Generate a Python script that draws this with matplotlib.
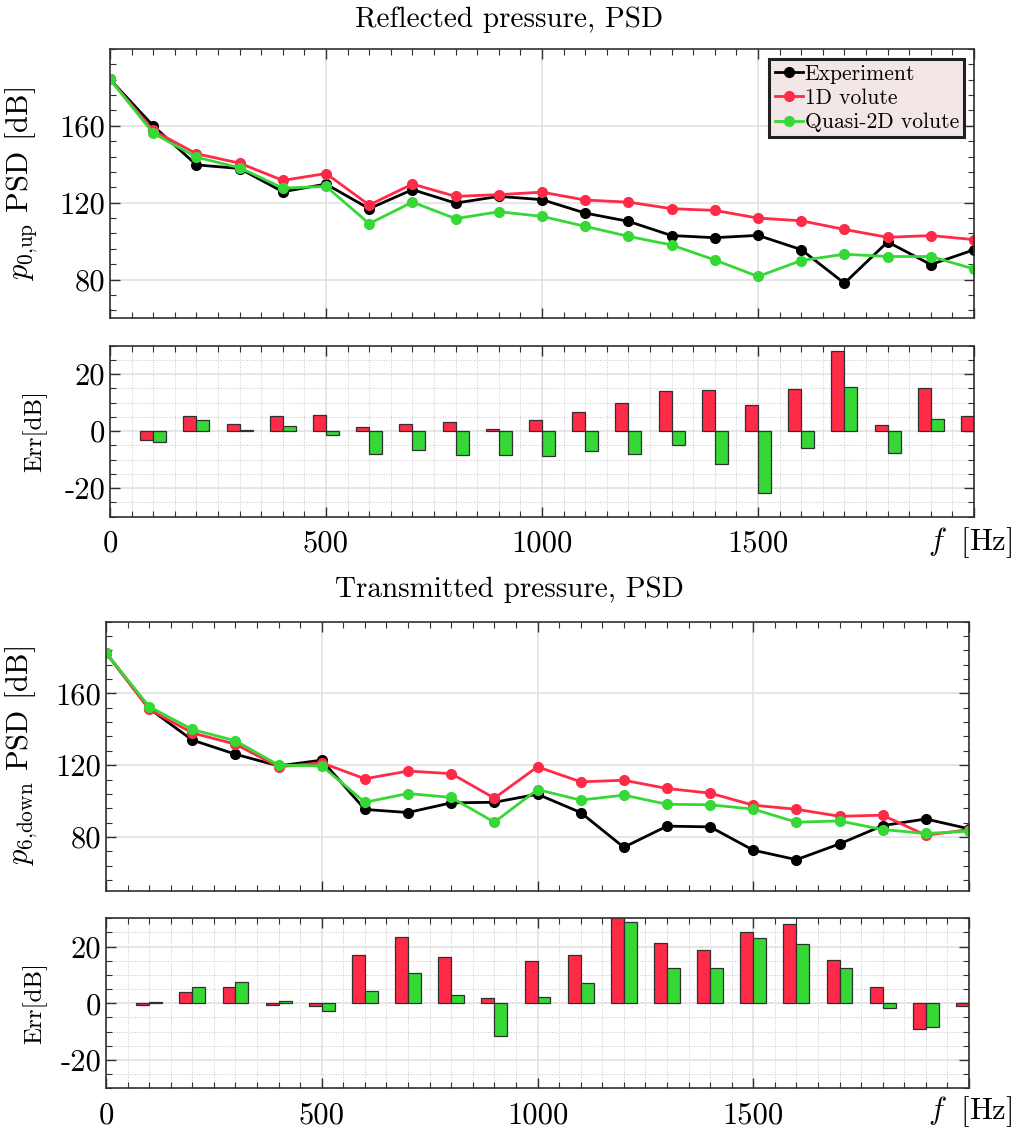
import matplotlib
matplotlib.use('Agg')
import matplotlib.pyplot as plt
import numpy as np
from matplotlib.ticker import MultipleLocator

plt.rcParams['font.family'] = 'cmr10'
plt.rcParams['mathtext.fontset'] = 'cm'
plt.rcParams['axes.unicode_minus'] = False
plt.rcParams['axes.formatter.use_mathtext'] = True

# frequencies of the spectral lines [Hz]
freq = [0, 100, 200, 300, 400, 500, 600, 700, 800, 900, 1000,
        1100, 1200, 1300, 1400, 1500, 1600, 1700, 1800, 1900, 2000]
freq_err = freq[1:]

# reflected pressure PSD [dB]
up_exp = [184.2, 160.0, 139.7, 137.8, 125.7, 129.7, 116.9, 126.8, 119.8, 123.3, 121.6,
          114.6, 110.3, 102.9, 101.8, 103.0, 95.6, 78.1, 99.6, 87.8, 95.5]
up_1d = [184.2, 157.6, 145.5, 140.6, 131.6, 135.2, 118.8, 129.7, 123.3, 124.2, 125.5,
         121.4, 120.3, 116.9, 116.0, 112.0, 110.6, 106.1, 102.0, 102.9, 100.8]
up_q2d = [184.2, 156.2, 143.7, 138.2, 127.6, 128.5, 109.1, 120.3, 111.7, 115.3, 112.9,
          107.7, 102.5, 98.0, 90.2, 81.6, 89.9, 93.2, 92.0, 92.0, 85.5]

# reflected pressure error vs experiment [dB]
up_err_1d = [-3.0, 5.1, 2.6, 5.4, 5.7, 1.5, 2.6, 3.3, 0.7, 3.7,
             6.5, 9.9, 14.0, 14.3, 9.0, 14.9, 28.1, 2.1, 15.0, 5.2]
up_err_q2d = [-3.7, 3.8, 0.5, 1.7, -1.3, -8.1, -6.5, -8.5, -8.4, -8.8,
              -7.0, -8.0, -5.0, -11.7, -21.8, -5.8, 15.3, -7.8, 4.1, -10.0]

# transmitted pressure PSD [dB]
down_exp = [182.7, 151.6, 134.0, 126.1, 119.6, 122.8, 95.3, 93.6, 99.0, 99.3, 103.8,
            93.6, 74.2, 86.0, 85.6, 72.6, 67.3, 76.1, 86.3, 90.0, 84.5]
down_1d = [182.7, 151.1, 138.0, 131.7, 119.1, 121.3, 112.4, 116.7, 115.3, 101.6, 119.1,
           110.7, 111.6, 107.0, 104.4, 97.7, 95.4, 91.5, 92.1, 80.9, 84.1]
down_q2d = [182.7, 152.6, 139.9, 133.6, 120.0, 119.6, 99.3, 104.2, 102.0, 88.2, 106.4,
            100.5, 103.3, 98.2, 97.9, 95.5, 88.2, 88.9, 84.1, 81.9, 83.2]

# transmitted pressure error vs experiment [dB]
down_err_1d = [-0.7, 3.9, 5.6, -0.7, -0.9, 16.9, 23.3, 16.2, 2.0, 14.8,
               17.2, 37.4, 21.4, 18.8, 25.1, 28.1, 15.2, 5.8, -9.2, -0.9]
down_err_q2d = [0.4, 5.6, 7.5, 0.7, -2.7, 4.2, 10.6, 2.8, -11.4, 2.2,
                7.1, 28.8, 12.4, 12.4, 22.9, 20.8, 12.6, -1.8, -8.2, -1.3]

labels = ['Experiment', '1D volute', 'Quasi-2D volute']
RED = '#ff2a48'
GREEN = '#35d835'
GRID = '#e2e2e2'
SPINE = '#303030'

W, H = 1016, 1135
fig = plt.figure(figsize=(W / 100, H / 100), dpi=100, facecolor='white')


def box(left, top, right, bottom):
    return [left / W, 1 - bottom / H, (right - left) / W, (bottom - top) / H]


def style_axes(ax):
    for s in ax.spines.values():
        s.set_color(SPINE)
        s.set_linewidth(1.2)
    ax.tick_params(which='both', direction='in', top=True, right=True, color=SPINE)
    ax.tick_params(which='major', length=7, width=1.0, labelsize=22)
    ax.tick_params(which='minor', length=4, width=0.8)
    ax.set_axisbelow(True)
    ax.set_xlim(0, 2000)
    ax.xaxis.set_major_locator(MultipleLocator(500))
    ax.xaxis.set_minor_locator(MultipleLocator(50))


def psd_panel(rect, exp, m1d, mq2d, ylab, ylim, legend):
    ax = fig.add_axes(rect)
    style_axes(ax)
    ax.plot(freq, exp, '-o', color='black', lw=2, ms=7, label=labels[0])
    ax.plot(freq, m1d, '-o', color=RED, lw=2, ms=7, label=labels[1])
    ax.plot(freq, mq2d, '-o', color=GREEN, lw=2, ms=7, label=labels[2])
    ax.set_ylim(*ylim)
    ax.set_yticks([80, 120, 160])
    ax.set_yticklabels(['80', '120', '160'])
    ax.yaxis.set_minor_locator(MultipleLocator(8))
    ax.grid(True, which='major', color=GRID, lw=1.2)
    ax.set_xticklabels([])
    ax.set_ylabel(ylab, fontsize=22)
    if legend:
        leg = ax.legend(loc='upper right', fontsize=15.5, fancybox=False, framealpha=1,
                        facecolor='#f2e6e6', edgecolor='#202020', handlelength=1.3,
                        handletextpad=0.1, borderpad=0.25, labelspacing=0.22,
                        borderaxespad=0.45)
        leg.get_frame().set_linewidth(2.2)
    return ax


def err_panel(rect, e1d, eq2d):
    ax = fig.add_axes(rect)
    style_axes(ax)
    x = np.array(freq_err)
    ax.bar(x - 15, e1d, width=30, color=RED, edgecolor='#303030', lw=0.9)
    ax.bar(x + 15, eq2d, width=30, color=GREEN, edgecolor='#303030', lw=0.9)
    ax.set_ylim(-30, 30)
    ax.set_yticks([-20, 0, 20])
    ax.set_yticklabels(['-20', '0', '20'])
    ax.yaxis.set_minor_locator(MultipleLocator(5))
    ax.grid(True, which='major', color=GRID, lw=1.2)
    ax.grid(True, which='minor', color='#c8c8c8', lw=0.7, ls=':')
    ax.set_xticks([0, 500, 1000, 1500, 2000])
    ax.set_xticklabels(['0', '500', '1000', '1500', ''])
    ax.tick_params(axis='x', which='major', pad=10)
    ax.set_ylabel('Err[dB]', fontsize=18)
    return ax


ax1 = psd_panel(box(110, 49, 974, 318), up_exp, up_1d, up_q2d,
                r'$p_{0{,}\mathrm{up}}$ PSD [dB]', (60, 200), True)
ax2 = err_panel(box(110, 345.5, 974, 516.5), up_err_1d, up_err_q2d)
ax3 = psd_panel(box(106, 621.7, 969, 890.7), down_exp, down_1d, down_q2d,
                r'$p_{6{,}\mathrm{down}}$ PSD [dB]', (50, 200), False)
ax4 = err_panel(box(106, 918.3, 969, 1088.3), down_err_1d, down_err_q2d)

ax1.yaxis.set_label_coords(-0.081, 0.5)
ax3.yaxis.set_label_coords(-0.077, 0.5)
ax2.yaxis.set_label_coords(-0.073, 0.5)
ax4.yaxis.set_label_coords(-0.068, 0.5)

# frequency axis label sits in place of the last tick label
fig.text(1012 / W, 1 - 543 / H, r'$f\;$ [Hz]', ha='right', va='center', fontsize=22)
fig.text(1012 / W, 1 - 1112 / H, r'$f\;$ [Hz]', ha='right', va='center', fontsize=22)

fig.text(509 / W, 1 - 20 / H, 'Reflected pressure, PSD', ha='center', va='center', fontsize=21)
fig.text(509 / W, 1 - 590 / H, 'Transmitted pressure, PSD', ha='center', va='center', fontsize=21)

fig.savefig('out.png', dpi=100)
